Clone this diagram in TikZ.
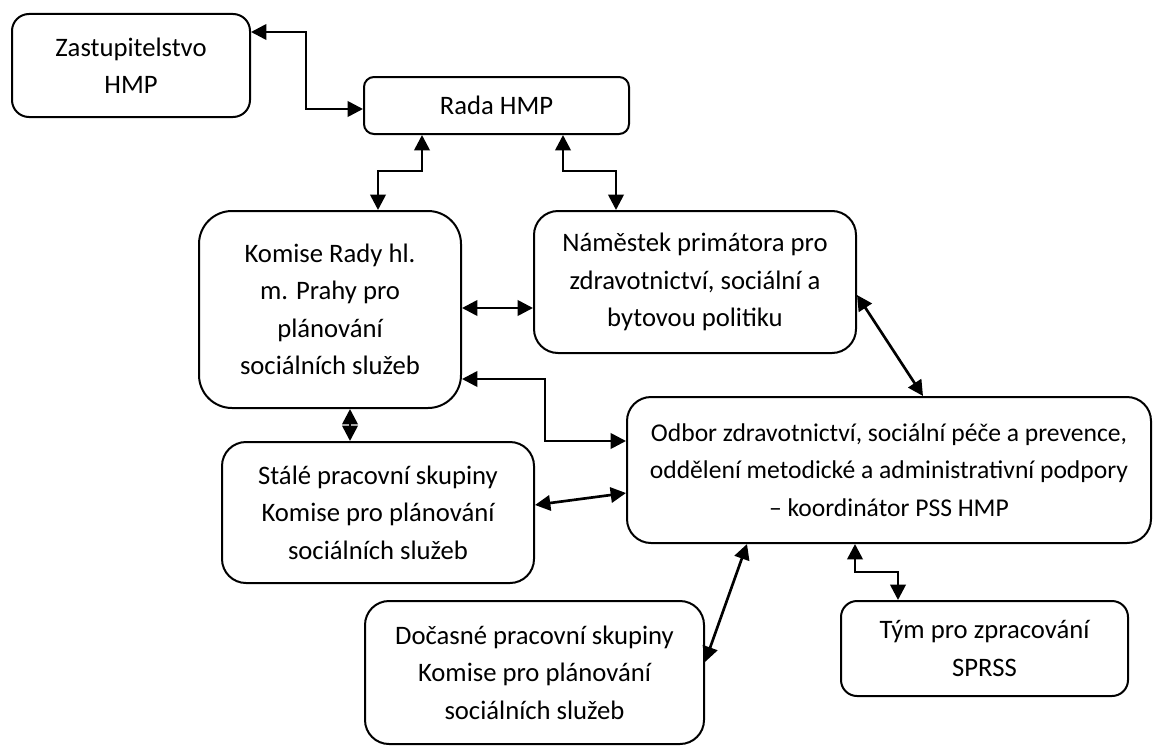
\documentclass[tikz,border=0pt]{standalone}
\usepackage{fontspec}
\setmainfont{Carlito}
\usetikzlibrary{arrows.meta}
\tikzset{
  box/.style={draw=black, line width=1.5pt, anchor=north west, inner sep=0pt,
    align=center, font=\fontsize{20}{28}\selectfont},
  conn/.style={line width=2pt,
    arrows={Triangle[length=11.5pt,width=11.5pt]-Triangle[length=11.5pt,width=11.5pt]}},
}
\begin{document}
\begin{tikzpicture}[x=0.75pt,y=-0.75pt]
\useasboundingbox (0,0) rectangle (1176,749);
% boxes
\node[box, rounded corners=12.75pt, minimum width=178.5pt, minimum height=77.25pt] (zast) at (11,13) {Zastupitelstvo\\HMP};
\node[box, rounded corners=7.5pt, minimum width=198.75pt, minimum height=42.75pt] (rada) at (363,76) {Rada HMP};
\node[box, rounded corners=24.75pt, minimum width=196.5pt, minimum height=147.75pt] (komise) at (198,210) {Komise Rady hl.\\m. Prahy pro\\plánování\\sociálních služeb};
\node[box, rounded corners=18pt, minimum width=241.5pt, minimum height=106.5pt] (nam) at (533,210) {Náměstek primátora pro\\zdravotnictví, sociální a\\bytovou politiku};
\node[box, rounded corners=18pt, minimum width=393pt, minimum height=109.5pt, font=\fontsize{19.2}{28}\selectfont] (odbor) at (626,396) {Odbor zdravotnictví, sociální péče a prevence,\\oddělení metodické a administrativní podpory\\– koordinátor PSS HMP};
\node[box, rounded corners=18pt, minimum width=234pt, minimum height=105.75pt] (stale) at (221,441) {Stálé pracovní skupiny\\Komise pro plánování\\sociálních služeb};
\node[box, rounded corners=18pt, minimum width=254.25pt, minimum height=107.25pt] (docasne) at (364,600) {Dočasné pracovní skupiny\\Komise pro plánování\\sociálních služeb};
\node[box, rounded corners=12pt, minimum width=215.25pt, minimum height=71.25pt] (tym) at (840,600) {Tým pro zpracování\\SPRSS};
% connectors
\draw[conn] (zast.east |- 0,32) -| (306,109) -- (rada.west |- 0,109);
\draw[conn] (rada.south -| 422,0) -- (422,171) -| (komise.north -| 378,0);
\draw[conn] (rada.south -| 563,0) -- (563,171) -| (nam.north -| 616,0);
\draw[conn] (komise.east |- 0,308) -- (nam.west |- 0,308);
\draw[conn] (komise.east |- 0,379) -| (545,441) -- (odbor.west |- 0,441);
\draw[conn] (komise.south -| 350,0) -- (stale.north -| 350,0);
\draw[conn] (stale.east |- 0,505) -- (odbor.west |- 0,493);
\draw[conn] (nam.east |- 0,295) -- (odbor.north -| 923,0);
\draw[conn] (odbor.south -| 747,0) -- (docasne.east |- 0,662);
\draw[conn] (odbor.south -| 855,0) -- (855,572) -| (tym.north -| 898,0);
\end{tikzpicture}
\end{document}
